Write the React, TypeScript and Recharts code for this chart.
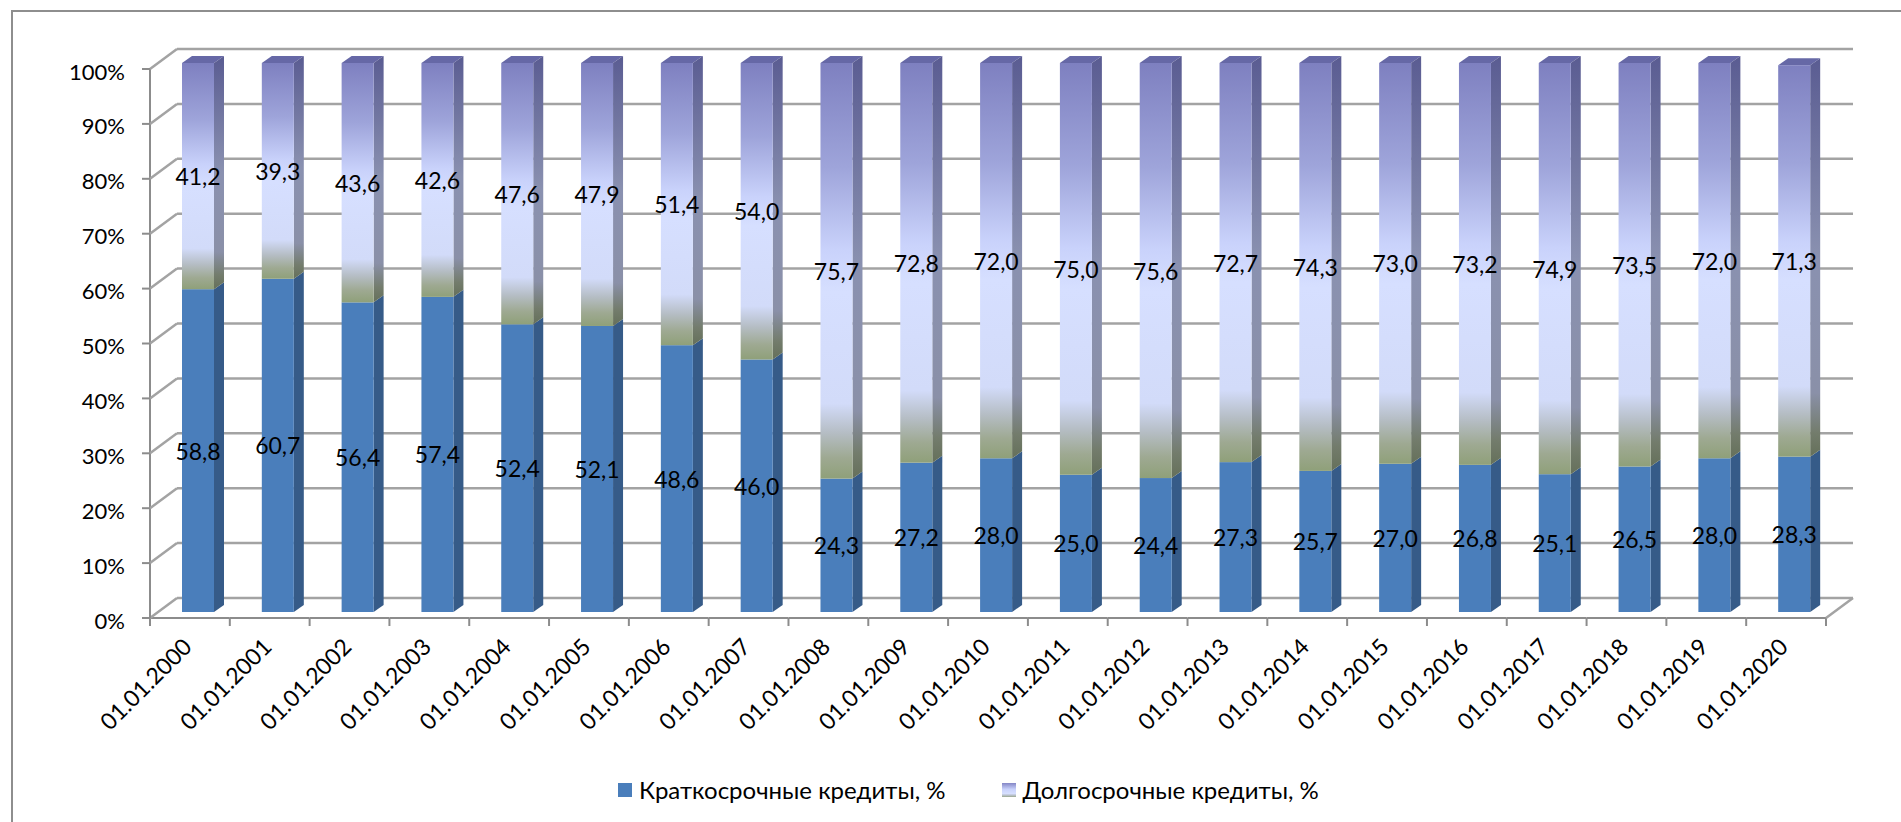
import React from "react";
import { BarChart, Bar, XAxis, YAxis, CartesianGrid, LabelList, Legend } from "recharts";

const categories = [
  "01.01.2000", "01.01.2001", "01.01.2002", "01.01.2003", "01.01.2004", "01.01.2005", "01.01.2006",
  "01.01.2007", "01.01.2008", "01.01.2009", "01.01.2010", "01.01.2011", "01.01.2012", "01.01.2013",
  "01.01.2014", "01.01.2015", "01.01.2016", "01.01.2017", "01.01.2018", "01.01.2019", "01.01.2020",
];
const shortTerm = [58.8, 60.7, 56.4, 57.4, 52.4, 52.1, 48.6, 46.0, 24.3, 27.2, 28.0, 25.0, 24.4, 27.3, 25.7, 27.0, 26.8, 25.1, 26.5, 28.0, 28.3];
const longTerm = [41.2, 39.3, 43.6, 42.6, 47.6, 47.9, 51.4, 54.0, 75.7, 72.8, 72.0, 75.0, 75.6, 72.7, 74.3, 73.0, 73.2, 74.9, 73.5, 72.0, 71.3];
const yTicks = [0, 10, 20, 30, 40, 50, 60, 70, 80, 90, 100];
const seriesKeys = ["short", "long"];
const seriesNames = ["Краткосрочные кредиты, %", "Долгосрочные кредиты, %"];

const data = categories.map((name, i) => ({ name, short: shortTerm[i], long: longTerm[i] }));

// geometry of the fake 3d box
const W = 1901;
const H = 822;
const PLOT_LEFT = 177;
const PLOT_RIGHT = 1853;
const PLOT_TOP = 49;
const PLOT_BOTTOM = 598;
const DEPTH_X = 27; // back wall -> front plane
const DEPTH_Y = 20;
const BAR_DX = -19; // bar front face relative to back wall
const BAR_DY = 14;
const SIDE_X = 10;
const SIDE_Y = 7;

const FONT = "Lato, 'Noto Sans', sans-serif";
const GRID = "#a3a3a3";
const AXIS = "#8c8c8c";
const SHORT_FRONT = "#4a7ebb";
const SHORT_SIDE = "#365b88";
const LEGEND_GRAD = "linear-gradient(#8486c6, #c9d2fb 45%, #d6dfff 75%, #b9c1cc 88%, #9aa88c)";

const fmt = (v: number) => v.toFixed(1).replace(".", ",");

const ShortBar = (p: any) => {
  const { x, y, width, height } = p;
  if (!height) return null;
  const fx = x + BAR_DX;
  const fy = y + BAR_DY;
  return (
    <g>
      <polygon
        points={`${fx + width},${fy} ${fx + width + SIDE_X},${fy - SIDE_Y} ${fx + width + SIDE_X},${fy + height - SIDE_Y} ${fx + width},${fy + height}`}
        fill={SHORT_SIDE}
      />
      <rect x={fx} y={fy} width={width} height={height} fill={SHORT_FRONT} />
    </g>
  );
};

const LongBar = (p: any) => {
  const { x, y, width, height } = p;
  if (!height) return null;
  const fx = x + BAR_DX;
  const fy = y + BAR_DY;
  return (
    <g>
      <polygon
        points={`${fx},${fy} ${fx + width},${fy} ${fx + width + SIDE_X},${fy - SIDE_Y} ${fx + SIDE_X},${fy - SIDE_Y}`}
        fill="#6668a6"
      />
      <polygon
        points={`${fx + width},${fy} ${fx + width + SIDE_X},${fy - SIDE_Y} ${fx + width + SIDE_X},${fy + height - SIDE_Y} ${fx + width},${fy + height}`}
        fill="url(#longSide)"
      />
      <rect x={fx} y={fy} width={width} height={height} fill="url(#longFront)" />
    </g>
  );
};

const renderLabel = (p: any) => {
  const { x, y, width, height, value } = p;
  return (
    <text
      x={Number(x) + BAR_DX + Number(width) / 2}
      y={Number(y) + BAR_DY + Number(height) / 2}
      textAnchor="middle"
      dominantBaseline="central"
      fontFamily={FONT}
      fontSize={23}
      fill="#000"
    >
      {fmt(Number(value))}
    </text>
  );
};

const YTick = (p: any) => {
  const { y, payload } = p;
  const fx = PLOT_LEFT - DEPTH_X;
  const fy = y + DEPTH_Y;
  return (
    <g>
      <line x1={PLOT_LEFT} y1={y} x2={fx} y2={fy} stroke={GRID} strokeWidth={2.5} />
      <line x1={fx - 8} y1={fy} x2={fx} y2={fy} stroke={AXIS} strokeWidth={2} />
      {payload.value === 0 && (
        <line x1={fx} y1={fy} x2={fx} y2={fy - (PLOT_BOTTOM - PLOT_TOP)} stroke={AXIS} strokeWidth={2} />
      )}
      <text x={fx - 25} y={fy + 2} textAnchor="end" dominantBaseline="central" fontFamily={FONT} fontSize={22} fill="#000">
        {payload.value}%
      </text>
    </g>
  );
};

const XTick = (p: any) => {
  const { x, payload, index } = p;
  const band = (PLOT_RIGHT - PLOT_LEFT) / categories.length;
  const cx = x - DEPTH_X;
  const fy = PLOT_BOTTOM + DEPTH_Y;
  const left = cx - band / 2;
  const right = cx + band / 2;
  const last = index === categories.length - 1;
  const lx = cx - 3;
  const ly = fy + 24;
  return (
    <g>
      <line x1={left} y1={fy} x2={right} y2={fy} stroke={AXIS} strokeWidth={2} />
      <line x1={left} y1={fy} x2={left} y2={fy + 8} stroke={AXIS} strokeWidth={2} />
      {last && (
        <g>
          <line x1={right} y1={fy} x2={right} y2={fy + 8} stroke={AXIS} strokeWidth={2} />
          <line x1={right} y1={fy} x2={right + DEPTH_X} y2={PLOT_BOTTOM} stroke={GRID} strokeWidth={2.5} />
        </g>
      )}
      <text
        x={lx}
        y={ly}
        transform={`rotate(-45 ${lx} ${ly})`}
        textAnchor="end"
        dominantBaseline="central"
        fontFamily={FONT}
        fontSize={23}
        fill="#000"
      >
        {payload.value}
      </text>
    </g>
  );
};

const renderLegend = (props: any) => {
  const items = [...(props.payload || [])].sort(
    (a: any, b: any) => seriesKeys.indexOf(a.dataKey) - seriesKeys.indexOf(b.dataKey)
  );
  return (
    <div style={{ display: "flex", alignItems: "center", fontFamily: FONT, fontSize: 24, lineHeight: "28px", color: "#000", whiteSpace: "nowrap" }}>
      {items.map((e: any, i: number) => (
        <div key={i} style={{ display: "flex", alignItems: "center", marginRight: i === 0 ? 56 : 0 }}>
          <span
            style={{
              display: "inline-block",
              width: 14,
              height: 14,
              marginRight: 7,
              background: e.dataKey === "short" ? SHORT_FRONT : LEGEND_GRAD,
            }}
          />
          <span>{e.value}</span>
        </div>
      ))}
    </div>
  );
};

export default function App() {
  return (
    <div style={{ position: "absolute", left: 0, top: 0, width: W, height: H, overflow: "hidden", background: "#fff" }}>
      <div
        style={{
          position: "absolute",
          left: 11,
          top: 10,
          width: W,
          height: H,
          borderLeft: "2px solid #8e8e8e",
          borderTop: "2px solid #8e8e8e",
        }}
      />
      <div style={{ position: "absolute", left: 0, top: 0 }}>
        <BarChart
          width={W}
          height={H}
          data={data}
          margin={{ top: PLOT_TOP, right: W - PLOT_RIGHT, left: PLOT_LEFT - 160, bottom: H - PLOT_BOTTOM - 150 }}
        >
          <defs>
            <linearGradient id="longFront" x1="0" y1="0" x2="0" y2="1">
              <stop offset="0" stopColor="#7e80c0" />
              <stop offset="0.25" stopColor="#9ea4da" />
              <stop offset="0.45" stopColor="#c9d2fb" />
              <stop offset="0.55" stopColor="#d6dfff" />
              <stop offset="0.82" stopColor="#d2dbf9" />
              <stop offset="0.89" stopColor="#b5bdc4" />
              <stop offset="0.95" stopColor="#9ea992" />
              <stop offset="1" stopColor="#8fa079" />
            </linearGradient>
            <linearGradient id="longSide" x1="0" y1="0" x2="0" y2="1">
              <stop offset="0" stopColor="#5a5c92" />
              <stop offset="0.5" stopColor="#8a91b0" />
              <stop offset="0.84" stopColor="#8a90a8" />
              <stop offset="0.94" stopColor="#737c6c" />
              <stop offset="1" stopColor="#65705a" />
            </linearGradient>
          </defs>
          <CartesianGrid vertical={false} stroke={GRID} strokeWidth={2.5} />
          <XAxis dataKey="name" interval={0} height={150} axisLine={false} tickLine={false} tick={<XTick />} />
          <YAxis
            type="number"
            domain={[0, 100]}
            ticks={yTicks}
            interval={0}
            width={160}
            axisLine={false}
            tickLine={false}
            tick={<YTick />}
          />
          <Legend
            verticalAlign="middle"
            align="center"
            layout="horizontal"
            wrapperStyle={{ top: 776, left: 618, width: "auto" }}
            content={renderLegend}
          />
          <Bar dataKey="short" name={seriesNames[0]} stackId="a" barSize={32} fill={SHORT_FRONT} shape={<ShortBar />} isAnimationActive={false}>
            <LabelList dataKey="short" content={renderLabel} />
          </Bar>
          <Bar dataKey="long" name={seriesNames[1]} stackId="a" barSize={32} fill="#9ea4da" shape={<LongBar />} isAnimationActive={false}>
            <LabelList dataKey="long" content={renderLabel} />
          </Bar>
        </BarChart>
      </div>
    </div>
  );
}
